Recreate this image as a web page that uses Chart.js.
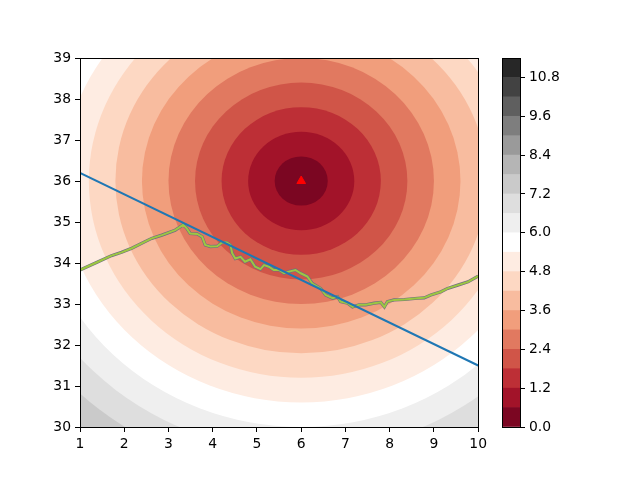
<!DOCTYPE html>
<html>
<head>
<meta charset="utf-8">
<script src="https://cdn.jsdelivr.net/npm/chart.js@4/dist/chart.umd.min.js"></script>
<style>
  body { margin: 0; background: #fff; }
  #wrap { position: relative; width: 640px; height: 480px; }
  #mapChart { position: absolute; left: 0; top: 0; }
  #barChart { position: absolute; left: 502px; top: 0; }
</style>
</head>
<body>
<div id="wrap">
  <canvas id="mapChart" width="491" height="480"></canvas>
  <canvas id="barChart" width="138" height="480"></canvas>
</div>
<script>
// dados do grafico

const center = [6, 36];   // ponto vermelho

const levels = [0, 0.6, 1.2, 1.8, 2.4, 3.0, 3.6, 4.2, 4.8, 5.4, 6.0,
  6.6, 7.2, 7.8, 8.4, 9.0, 9.6, 10.2, 10.8, 11.4];

const bandColors = [
  '#7b0622', '#a21329', '#bd2f36', '#d05548', '#e17960', '#f19e7c',
  '#f8bc9f', '#fdd8c3', '#feece2', '#ffffff', '#efefef', '#dedede',
  '#cacaca', '#b5b5b5', '#9a9a9a', '#7e7e7e', '#5f5f5f', '#424242', '#272727'
];

const lineX = [1, 10];        // reta azul
const lineY = [36.2, 31.5];

const coastX = [1.0, 1.41, 1.71, 1.94, 2.17, 2.47, 2.62, 2.85, 3.15, 3.22, 3.33, 3.41,
  3.49, 3.65, 3.76, 3.83, 3.95, 4.10, 4.21, 4.32, 4.40, 4.44, 4.51, 4.63, 4.73, 4.85,
  4.96, 5.08, 5.16, 5.27, 5.38, 5.50, 5.61, 5.72, 5.87, 5.99, 6.14, 6.25, 6.44, 6.55,
  6.71, 6.82, 6.89, 7.05, 7.16, 7.31, 7.46, 7.65, 7.80, 7.88, 7.95, 8.10, 8.33, 8.63,
  8.78, 8.93, 9.16, 9.31, 9.54, 9.77, 10.0];
const coastY = [33.83, 34.03, 34.18, 34.26, 34.36, 34.52, 34.60, 34.68, 34.80, 34.85, 34.93, 34.85,
  34.72, 34.71, 34.64, 34.44, 34.40, 34.41, 34.50, 34.50, 34.44, 34.24, 34.11, 34.15, 34.03, 34.09,
  33.91, 33.85, 33.95, 33.91, 33.83, 33.83, 33.75, 33.79, 33.83, 33.75, 33.67, 33.50, 33.38, 33.22,
  33.14, 33.18, 33.06, 33.02, 32.93, 32.98, 32.98, 33.02, 33.04, 32.93, 33.06, 33.10, 33.11, 33.14,
  33.15, 33.22, 33.30, 33.38, 33.46, 33.54, 33.68];

const xTicks = [1, 2, 3, 4, 5, 6, 7, 8, 9, 10];
const yTicks = [30, 31, 32, 33, 34, 35, 36, 37, 38, 39];
const cbTicks = [0, 1.2, 2.4, 3.6, 4.8, 6.0, 7.2, 8.4, 9.6, 10.8];

Chart.defaults.font.family = 'DejaVu Sans';
Chart.defaults.font.size = 13.9;
Chart.defaults.color = '#000';

function toPoints(xs, ys) {
  return xs.map((x, i) => ({ x: x, y: ys[i] }));
}

// plugin: preenchimento das curvas de nivel (circulos)
const contourPlugin = {
  id: 'contour',
  beforeDatasetsDraw(chart) {
    const ctx = chart.ctx, a = chart.chartArea;
    const sx = chart.scales.x, sy = chart.scales.y;
    const cx = sx.getPixelForValue(center[0]);
    const cy = sy.getPixelForValue(center[1]);
    ctx.save();
    ctx.beginPath();
    ctx.rect(a.left, a.top, a.right - a.left, a.bottom - a.top);
    ctx.clip();
    for (let i = bandColors.length - 1; i >= 0; i--) {
      const r = levels[i + 1];
      const rx = Math.abs(sx.getPixelForValue(center[0] + r) - cx);
      const ry = Math.abs(sy.getPixelForValue(center[1] + r) - cy);
      ctx.beginPath();
      ctx.ellipse(cx, cy, rx, ry, 0, 0, Math.PI * 2);
      ctx.fillStyle = bandColors[i];
      ctx.fill();
    }
    ctx.restore();
  }
};

// plugin: moldura preta
const framePlugin = {
  id: 'frame',
  afterDatasetsDraw(chart) {
    const ctx = chart.ctx, a = chart.chartArea;
    ctx.save();
    ctx.strokeStyle = '#000';
    ctx.lineWidth = 1;
    ctx.strokeRect(Math.round(a.left) + 0.5, Math.round(a.top) + 0.5,
      Math.round(a.right - a.left), Math.round(a.bottom - a.top));
    ctx.restore();
  }
};

function axis(min, max, ticks, extra) {
  return Object.assign({
    type: 'linear',
    min: min,
    max: max,
    afterBuildTicks: s => { s.ticks = ticks.map(v => ({ value: v })); },
    grid: { drawOnChartArea: false, color: '#000', tickColor: '#000', tickLength: 5 },
    border: { display: false },
    ticks: { padding: 4, color: '#000' }
  }, extra);
}

// grafico principal
const mapChart = new Chart(document.getElementById('mapChart'), {
  type: 'scatter',
  data: {
    datasets: [
      {
        data: [{ x: center[0], y: center[1] }],
        pointStyle: 'triangle',
        pointRadius: 5,
        backgroundColor: '#ff0000',
        borderColor: '#ff0000',
        borderWidth: 1
      },
      {
        data: toPoints(lineX, lineY),
        showLine: true,
        borderColor: '#1f77b4',
        borderWidth: 2,
        pointRadius: 0
      },
      {
        data: toPoints(coastX, coastY),
        showLine: true,
        borderColor: '#9cc741',
        borderWidth: 2,
        pointRadius: 0
      },
      {
        data: toPoints(coastX, coastY),
        showLine: true,
        borderColor: '#6f6f80',
        borderWidth: 3.2,
        pointRadius: 0
      }
    ]
  },
  options: {
    responsive: false,
    animation: false,
    layout: { padding: { top: 58, right: 0, left: 0, bottom: 0 } },
    plugins: { legend: { display: false }, tooltip: { enabled: false } },
    scales: {
      x: axis(1, 10, xTicks, { afterFit: s => { s.height = 53; } }),
      y: axis(30, 39, yTicks, { afterFit: s => { s.width = 80; } })
    }
  },
  plugins: [contourPlugin, framePlugin]
});

// barra de cores
const barChart = new Chart(document.getElementById('barChart'), {
  type: 'bar',
  data: {
    labels: [''],
    datasets: bandColors.map(c => ({
      data: [0.6],
      backgroundColor: c,
      borderWidth: 0,
      barPercentage: 1,
      categoryPercentage: 1
    }))
  },
  options: {
    responsive: false,
    animation: false,
    layout: { padding: { top: 58, right: 0, left: 0, bottom: 53 } },
    plugins: { legend: { display: false }, tooltip: { enabled: false } },
    scales: {
      x: { stacked: true, display: false },
      y: axis(0, 11.4, cbTicks, {
        stacked: true,
        position: 'right',
        afterFit: s => { s.width = 120; },
        ticks: { padding: 4, color: '#000', callback: v => v.toFixed(1) }
      })
    }
  },
  plugins: [framePlugin]
});
</script>
</body>
</html>
